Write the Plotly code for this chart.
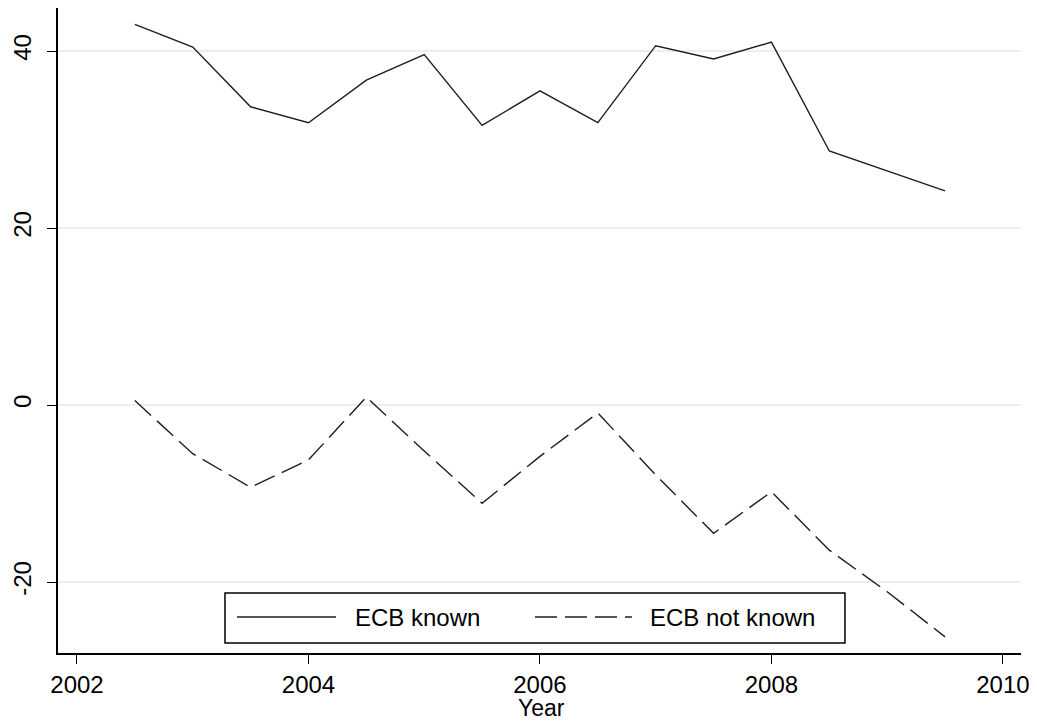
import plotly.graph_objects as go

years = [2002.5, 2003, 2003.5, 2004, 2004.5, 2005, 2005.5, 2006, 2006.5,
         2007, 2007.5, 2008, 2008.5, 2009, 2009.5]
ecb_known = [43.0, 40.45, 33.7, 31.9, 36.7, 39.6, 31.6, 35.5, 31.9,
             40.6, 39.1, 41.0, 28.7, 26.45, 24.2]
ecb_not_known = [0.5, -5.5, -9.3, -6.2, 0.9, -5.2, -11.1, -5.8, -0.9,
                 -7.9, -14.5, -9.8, -16.4, -21.1, -26.2]
series_names = ["ECB known", "ECB not known"]
x_ticks = [2002, 2004, 2006, 2008, 2010]
y_ticks = [-20, 0, 20, 40]
x_title = "Year"

FONT = "Liberation Sans, Arial, sans-serif"
LINE_COLOR = "#1e1e1e"
DASH = "22px,8px"

fig = go.Figure()
fig.add_trace(go.Scatter(x=years, y=ecb_known, mode="lines", name=series_names[0],
                         line=dict(color=LINE_COLOR, width=1.4), showlegend=False))
fig.add_trace(go.Scatter(x=years, y=ecb_not_known, mode="lines", name=series_names[1],
                         line=dict(color=LINE_COLOR, width=1.4, dash=DASH), showlegend=False))

# Custom legend box (Stata style, long line samples)
fig.add_shape(type="rect", xref="paper", yref="paper", x0=0.1734, x1=0.8172, y0=0.0155, y1=0.093,
              line=dict(color="black", width=1.5), fillcolor="white", layer="above")
fig.add_shape(type="line", xref="paper", yref="paper", x0=0.1859, x1=0.2887, y0=0.0558, y1=0.0558,
              line=dict(color=LINE_COLOR, width=1.4), layer="above")
fig.add_shape(type="line", xref="paper", yref="paper", x0=0.4953, x1=0.5960, y0=0.0558, y1=0.0558,
              line=dict(color=LINE_COLOR, width=1.4, dash=DASH), layer="above")
fig.add_annotation(xref="paper", yref="paper", x=0.3063, y=0.0558, text=series_names[0],
                   showarrow=False, xanchor="left", yanchor="middle",
                   font=dict(family=FONT, size=24, color="black"))
fig.add_annotation(xref="paper", yref="paper", x=0.6127, y=0.0558, text=series_names[1],
                   showarrow=False, xanchor="left", yanchor="middle",
                   font=dict(family=FONT, size=24, color="black"))
# x-axis title placed just under the tick labels (Stata style)
fig.add_annotation(xref="paper", yref="paper", x=0.5016, y=-0.0853, text=x_title,
                   showarrow=False, xanchor="center", yanchor="middle",
                   font=dict(family=FONT, size=23, color="black"))

fig.update_layout(
    width=1029, height=717,
    margin=dict(l=50, r=16, t=0, b=72, autoexpand=False),
    paper_bgcolor="white", plot_bgcolor="white",
    font=dict(family=FONT, size=24, color="black"),
    showlegend=False,
)
fig.update_xaxes(
    range=[2001.836, 2010.156], tickvals=x_ticks, ticktext=[str(t) for t in x_ticks],
    showgrid=False, zeroline=False, showline=True, linecolor="black", linewidth=1.5,
    ticks="outside", ticklen=9, tickwidth=1.2, tickcolor="black",
    tickfont=dict(family=FONT, size=24), ticklabeloverflow="allow",
    automargin=False,
)
fig.update_yaxes(
    range=[-28.02, 44.86], tickvals=y_ticks, ticktext=[str(t) for t in y_ticks],
    showgrid=True, gridcolor="#E8F1F2", gridwidth=1.5, zeroline=False,
    showline=True, linecolor="black", linewidth=1.5,
    ticks="outside", ticklen=9, tickwidth=1.2, tickcolor="black",
    tickangle=-90, ticklabelstandoff=7, tickfont=dict(family=FONT, size=24),
    automargin=False,
)

fig.write_html("out.html")
